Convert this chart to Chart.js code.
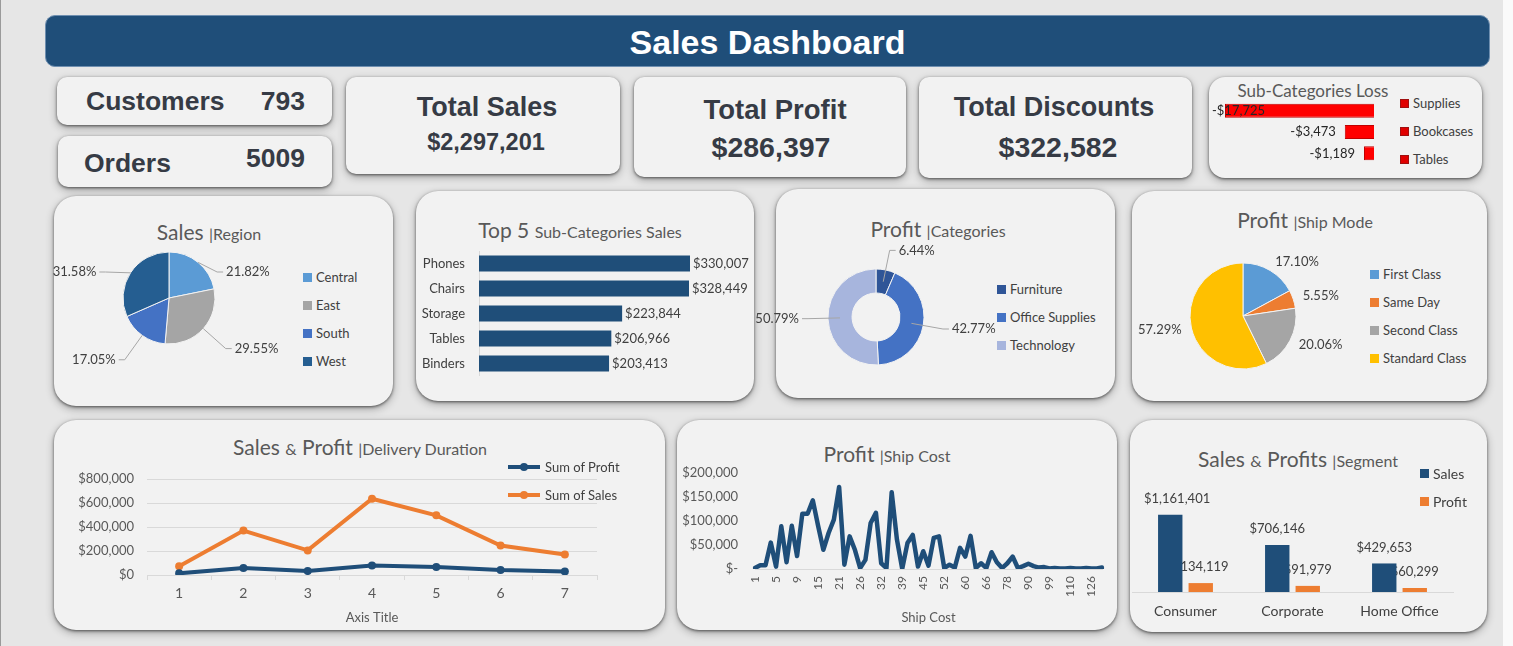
<!DOCTYPE html>
<html lang="en">
<head>
<meta charset="UTF-8">
<title>Sales Dashboard</title>
<script src="https://cdn.jsdelivr.net/npm/chart.js@4.4.1/dist/chart.umd.min.js"></script>
<style>
  html, body { margin: 0; padding: 0; }
  body { width: 1513px; height: 646px; background: #e6e6e6; position: relative; overflow: hidden; font-family: Lato, 'Noto Sans', sans-serif; }
  .card { position: absolute; background: #f2f2f2; border-radius: 22px; box-shadow: 0 1px 3px rgba(0,0,0,.55), 0 3px 8px rgba(0,0,0,.3); }
  .kpi { border-radius: 10px; }
  .kt { position: absolute; font-family: 'Liberation Sans', Arial, sans-serif; font-weight: bold; color: #363b45; white-space: nowrap; transform: translate(0, -50%); }
  .kt.c { transform: translate(-50%, -50%); }
  .kt.r { transform: translate(-100%, -50%); }
  .ttl { position: absolute; color: #595959; white-space: nowrap; transform: translate(-50%, -50%); font-size: 21px; }
  .ttl span { font-size: 16px; }
  canvas { position: absolute; }
  .lg { position: absolute; font-size: 13px; color: #404040; }
  .lg div { height: 28px; display: flex; align-items: center; white-space: nowrap; }
  .sw { width: 9px; height: 9px; margin-right: 4px; display: inline-block; }
  .ln { width: 32px; height: 4px; margin-right: 5px; position: relative; display: inline-block; }
  .ln i { position: absolute; left: 12px; top: -2px; width: 8px; height: 8px; border-radius: 50%; }
</style>
</head>
<body>
<div style="position:absolute;left:0;top:0;width:1px;height:646px;background:#9a9a9a;"></div>
<div style="position:absolute;left:1503px;top:0;width:10px;height:646px;background:#fafafa;"></div>
<div style="position:absolute;left:45px;top:15px;width:1443px;height:50px;background:#1f4e79;border:1px solid #6f8fb0;border-radius:10px;color:#fff;font:bold 34px 'Liberation Sans',Arial,sans-serif;text-align:center;line-height:52px;">Sales Dashboard</div>

<div class="card kpi" style="left:57px;top:77px;width:275px;height:48px;"></div>
<div class="card kpi" style="left:58px;top:136px;width:274px;height:51px;"></div>
<div class="card kpi" style="left:346px;top:77px;width:274px;height:97px;"></div>
<div class="card kpi" style="left:634px;top:77px;width:272px;height:100px;"></div>
<div class="card kpi" style="left:919px;top:77px;width:273px;height:101px;"></div>
<div class="card kpi" style="left:1209px;top:77px;width:273px;height:101px;border-radius:16px;"></div>

<div class="card" style="left:54px;top:196px;width:339px;height:210px;"></div>
<div class="card" style="left:416px;top:191px;width:338px;height:210px;"></div>
<div class="card" style="left:776px;top:189px;width:339px;height:209px;"></div>
<div class="card" style="left:1132px;top:191px;width:355px;height:210px;"></div>
<div class="card" style="left:54px;top:420px;width:611px;height:210px;"></div>
<div class="card" style="left:677px;top:420px;width:440px;height:210px;"></div>
<div class="card" style="left:1130px;top:420px;width:357px;height:212px;"></div>

<div class="kt" style="left:86px;top:101px;font-size:26.5px;">Customers</div>
<div class="kt r" style="left:305px;top:101px;font-size:26.5px;">793</div>
<div class="kt" style="left:84px;top:163px;font-size:26.5px;">Orders</div>
<div class="kt r" style="left:305px;top:158px;font-size:26.5px;">5009</div>
<div class="kt c" style="left:487px;top:107px;font-size:27px;">Total Sales</div>
<div class="kt c" style="left:486px;top:142px;font-size:23.5px;">$2,297,201</div>
<div class="kt c" style="left:775px;top:110px;font-size:27.5px;">Total Profit</div>
<div class="kt c" style="left:771px;top:147px;font-size:28.5px;">$286,397</div>
<div class="kt c" style="left:1054px;top:107px;font-size:27px;">Total Discounts</div>
<div class="kt c" style="left:1058px;top:147px;font-size:28.5px;">$322,582</div>

<div class="ttl" style="left:1313px;top:90px;font-size:17px;">Sub-Categories Loss</div>
<div class="ttl" style="left:209px;top:231px;">Sales <span>|Region</span></div>
<div class="ttl" style="left:580px;top:229px;">Top 5 <span>Sub-Categories Sales</span></div>
<div class="ttl" style="left:938px;top:228px;">Profit <span>|Categories</span></div>
<div class="ttl" style="left:1305px;top:219px;">Profit <span>|Ship Mode</span></div>
<div class="ttl" style="left:360px;top:446px;">Sales <span>&amp;</span> Profit <span>|Delivery Duration</span></div>
<div class="ttl" style="left:887px;top:453px;">Profit <span>|Ship Cost</span></div>
<div class="ttl" style="left:1298px;top:458px;">Sales <span>&amp;</span> Profits <span>|Segment</span></div>

<script>
// ---- data ----
const lossSubCats = ['Supplies', 'Bookcases', 'Tables'];
const lossValues = [-17725, -3473, -1189];

const regionLabels = ['Central', 'East', 'South', 'West'];
const regionShare = [21.82, 29.55, 17.05, 31.58];
const regionColors = ['#5b9bd5', '#a5a5a5', '#4472c4', '#255e91'];

const topSubCats = ['Phones', 'Chairs', 'Storage', 'Tables', 'Binders'];
const topSubSales = [330007, 328449, 223844, 206966, 203413];

const categoryLabels = ['Furniture', 'Office Supplies', 'Technology'];
const categoryShare = [6.44, 42.77, 50.79];
const categoryColors = ['#2f5597', '#4472c4', '#a7b5dd'];

const shipModes = ['First Class', 'Same Day', 'Second Class', 'Standard Class'];
const shipModeShare = [17.10, 5.55, 20.06, 57.29];
const shipModeColors = ['#5b9bd5', '#ed7d31', '#a5a5a5', '#ffc000'];

const deliveryDays = [1, 2, 3, 4, 5, 6, 7];
const deliveryProfit = [14000, 58000, 33000, 80000, 66000, 42000, 30000];
const deliverySales = [72000, 370000, 205000, 635000, 497000, 245000, 171000];

const shipCosts = [1, 2, 3, 4, 5, 6, 7, 8, 9, 10, 12, 13, 15, 16, 18, 19, 21, 22, 23, 25,
  26, 27, 29, 30, 32, 34, 35, 37, 39, 40, 42, 43, 45, 47, 48, 50, 52, 54, 56, 58,
  60, 61, 63, 64, 66, 69, 72, 75, 78, 81, 84, 87, 90, 92, 94, 97, 99, 102, 105, 107,
  110, 114, 118, 122, 126, 130, 135];
const shipCostProfit = [2000, 8000, 8000, 55000, 5000, 89000, 14000, 90000, 27000, 115000,
  115000, 143000, 90000, 40000, 75000, 103000, 171000, 9000, 68000, 40000,
  2000, 19000, 96000, 117000, 12000, 2000, 160000, 61000, 500, 54000,
  71000, 5000, 37000, 7000, 65000, 68000, 2000, 9000, 3000, 44000,
  26000, 69000, 2000, 12000, 2000, 35000, 14000, 2000, 12000, 26000,
  2000, 6000, 11000, 6000, 3000, 4000, 1000, 2000, 1000, 1000,
  2000, 1000, 1000, 2000, 1000, 1000, 3000];

const segments = ['Consumer', 'Corporate', 'Home Office'];
const segmentSales = [1161401, 706146, 429653];
const segmentProfit = [134119, 91979, 60299];

const BLUE = '#1f4e79', ORANGE = '#ed7d31';

Chart.defaults.font.family = "Lato, 'Noto Sans', sans-serif";
Chart.defaults.font.size = 13;
Chart.defaults.color = '#595959';

function money(v) {
  return (v < 0 ? '-$' : '$') + Math.abs(v).toLocaleString('en-US');
}

// stop tick labels from pushing the plot area inwards
function noPad(s) {
  s.paddingTop = 0; s.paddingBottom = 0; s.paddingLeft = 0; s.paddingRight = 0;
}

function canvasAt(x, y, w, h) {
  const c = document.createElement('canvas');
  c.width = w; c.height = h;
  c.style.left = x + 'px'; c.style.top = y + 'px';
  document.body.appendChild(c);
  return c;
}

function boxLegend(x, y, labels, colors, size, border) {
  const box = document.createElement('div');
  box.className = 'lg';
  box.style.left = x + 'px'; box.style.top = (y - 14) + 'px';
  if (size) box.style.fontSize = size + 'px';
  labels.forEach((t, i) => {
    const row = document.createElement('div');
    const sw = document.createElement('span');
    sw.className = 'sw';
    sw.style.background = colors[i];
    if (border) sw.style.boxShadow = 'inset 0 0 0 1px ' + border;
    row.appendChild(sw);
    row.appendChild(document.createTextNode(t));
    box.appendChild(row);
  });
  document.body.appendChild(box);
}

function lineLegend(x, y, labels, colors) {
  const box = document.createElement('div');
  box.className = 'lg';
  box.style.left = x + 'px'; box.style.top = (y - 14) + 'px';
  labels.forEach((t, i) => {
    const row = document.createElement('div');
    const ln = document.createElement('span');
    ln.className = 'ln';
    ln.style.background = colors[i];
    const dot = document.createElement('i');
    dot.style.background = colors[i];
    ln.appendChild(dot);
    row.appendChild(ln);
    row.appendChild(document.createTextNode(t));
    box.appendChild(row);
  });
  document.body.appendChild(box);
}

// percent labels around pie / doughnut slices
const sliceLabels = {
  id: 'sliceLabels',
  afterDatasetsDraw(chart, args, opts) {
    const ctx = chart.ctx;
    const meta = chart.getDatasetMeta(0);
    const vals = chart.data.datasets[0].data;
    ctx.save();
    ctx.font = "13px Lato, 'Noto Sans', sans-serif";
    ctx.fillStyle = '#404040';
    ctx.strokeStyle = '#a6a6a6';
    ctx.lineWidth = 1;
    ctx.textBaseline = 'middle';
    meta.data.forEach((arc, i) => {
      const p = arc.getProps(['x', 'y', 'startAngle', 'endAngle', 'outerRadius', 'innerRadius'], true);
      const mid = (p.startAngle + p.endAngle) / 2;
      const dx = Math.cos(mid), dy = Math.sin(mid);
      const r = p.outerRadius + opts.dist;
      let tx = p.x + dx * r;
      let ty = p.y + dy * r;
      if (opts.top !== undefined) ty = Math.max(ty, p.y - opts.top);
      const side = dx >= 0 ? 1 : -1;
      if (opts.leader) {
        const r0 = p.innerRadius > 0 ? (p.outerRadius + p.innerRadius) / 2 : p.outerRadius;
        ctx.beginPath();
        ctx.moveTo(p.x + dx * r0, p.y + dy * r0);
        ctx.lineTo(tx, ty);
        ctx.lineTo(tx + side * 6, ty);
        ctx.stroke();
        tx += side * 9;
      }
      ctx.textAlign = side > 0 ? 'left' : 'right';
      ctx.fillText(vals[i].toFixed(2) + '%', tx, ty);
    });
    ctx.restore();
  }
};

function pieChart(canvas, labels, values, colors, cfg) {
  return new Chart(canvas, {
    type: cfg.cutout ? 'doughnut' : 'pie',
    data: { labels: labels, datasets: [{ data: values, backgroundColor: colors, borderColor: '#f2f2f2', borderWidth: 1 }] },
    options: {
      responsive: false, animation: false,
      radius: cfg.radius, cutout: cfg.cutout || 0,
      plugins: { legend: { display: false }, tooltip: { enabled: false },
        sliceLabels: { dist: cfg.dist, leader: cfg.leader, top: cfg.top } }
    },
    plugins: [sliceLabels]
  });
}

// ---- Sub-Categories Loss ----
new Chart(canvasAt(1209, 100, 169, 64), {
  type: 'bar',
  data: { labels: lossSubCats, datasets: [{ data: lossValues, backgroundColor: '#ff0000', borderColor: '#c00000', borderWidth: 1,
    categoryPercentage: 1, barPercentage: 0.66 }] },
  options: {
    indexAxis: 'y', responsive: false, animation: false,
    layout: { padding: { left: 16, right: 4 } },
    plugins: { legend: { display: false }, tooltip: { enabled: false } },
    scales: { x: { display: false, min: -17725, max: 0 }, y: { display: false } }
  },
  plugins: [{
    id: 'lossLabels',
    afterDatasetsDraw(chart) {
      const ctx = chart.ctx;
      const meta = chart.getDatasetMeta(0);
      ctx.save();
      ctx.font = "13px Lato, 'Noto Sans', sans-serif";
      ctx.fillStyle = '#262626';
      ctx.textBaseline = 'middle';
      meta.data.forEach((bar, i) => {
        const t = money(lossValues[i]);
        const w = ctx.measureText(t).width;
        const x = Math.max(bar.x - 9 - w, 3);
        ctx.fillText(t, x, bar.y);
      });
      ctx.restore();
    }
  }]
});
boxLegend(1400, 103, lossSubCats, lossSubCats.map(() => '#e00000'), 13, '#a01010');

// ---- Sales | Region ----
pieChart(canvasAt(39, 208, 260, 180), regionLabels, regionShare, regionColors, { radius: 46, dist: 30, leader: true, top: 26 });
boxLegend(303, 277, regionLabels, regionColors);

// ---- Top 5 Sub-Categories Sales ----
new Chart(canvasAt(416, 251, 334, 125), {
  type: 'bar',
  data: { labels: topSubCats, datasets: [{ data: topSubSales, backgroundColor: BLUE, categoryPercentage: 1, barPercentage: 0.64 }] },
  options: {
    indexAxis: 'y', responsive: false, animation: false,
    layout: { padding: { right: 60 } },
    plugins: { legend: { display: false }, tooltip: { enabled: false } },
    scales: {
      x: { display: false, min: 0, max: 330007 },
      y: { grid: { display: false, drawTicks: false }, border: { color: '#d9d9d9' },
        ticks: { color: '#404040', padding: 14, font: { size: 13 } },
        afterFit(s) { s.width = 63; noPad(s); } }
    }
  },
  plugins: [{
    id: 'topLabels',
    afterDatasetsDraw(chart) {
      const ctx = chart.ctx;
      ctx.save();
      ctx.font = "13px Lato, 'Noto Sans', sans-serif";
      ctx.fillStyle = '#404040';
      ctx.textBaseline = 'middle';
      chart.getDatasetMeta(0).data.forEach((bar, i) => ctx.fillText(money(topSubSales[i]), bar.x + 3, bar.y));
      ctx.restore();
    }
  }]
});

// ---- Profit | Categories ----
pieChart(canvasAt(756, 232, 240, 170), categoryLabels, categoryShare, categoryColors, { radius: 48, cutout: '50%', dist: 20, leader: true });
boxLegend(997, 289, categoryLabels, categoryColors);

// ---- Profit | Ship Mode ----
pieChart(canvasAt(1123, 236, 240, 160), shipModes, shipModeShare, shipModeColors, { radius: 53, dist: 10, leader: false });
boxLegend(1370, 274, shipModes, shipModeColors);

// ---- Sales & Profit | Delivery Duration ----
new Chart(canvasAt(70, 465, 540, 165), {
  type: 'line',
  data: { labels: deliveryDays, datasets: [
    { label: 'Sum of Profit', data: deliveryProfit, borderColor: BLUE, backgroundColor: BLUE, borderWidth: 4, pointRadius: 4, pointBorderWidth: 0, tension: 0 },
    { label: 'Sum of Sales', data: deliverySales, borderColor: ORANGE, backgroundColor: ORANGE, borderWidth: 4, pointRadius: 4, pointBorderWidth: 0, tension: 0 }
  ] },
  options: {
    responsive: false, animation: false,
    layout: { padding: { top: 14, right: 13 } },
    plugins: { legend: { display: false }, tooltip: { enabled: false } },
    scales: {
      x: { offset: true,
        grid: { offset: true, drawOnChartArea: false, tickLength: 5, color: '#d9d9d9' },
        border: { color: '#d9d9d9' },
        ticks: { font: { size: 14 }, padding: 5 },
        title: { display: true, text: 'Axis Title', font: { size: 13 }, color: '#595959', padding: { top: 4, bottom: 4 } },
        afterFit(s) { s.height = 55; noPad(s); } },
      y: { min: 0, max: 800000,
        ticks: { stepSize: 200000, padding: 13, callback: v => money(v) },
        grid: { color: '#d9d9d9', drawTicks: false }, border: { display: false },
        afterFit(s) { s.width = 77; noPad(s); } }
    }
  }
});
lineLegend(508, 467, ['Sum of Profit', 'Sum of Sales'], [BLUE, ORANGE]);

// ---- Profit | Ship Cost ----
new Chart(canvasAt(672, 465, 438, 165), {
  type: 'line',
  data: { labels: shipCosts, datasets: [{ data: shipCostProfit, borderColor: BLUE, borderWidth: 4.5, pointRadius: 0, tension: 0,
    borderJoinStyle: 'round', borderCapStyle: 'round' }] },
  options: {
    responsive: false, animation: false,
    layout: { padding: { top: 8, right: 8 } },
    plugins: { legend: { display: false }, tooltip: { enabled: false } },
    scales: {
      x: { offset: false, grid: { display: false, drawTicks: false }, border: { color: '#d9d9d9' },
        ticks: { autoSkip: false, minRotation: 90, maxRotation: 90, padding: 7, font: { size: 12 },
          callback(value, index) { return index % 4 === 0 ? this.getLabelForValue(value) : ''; } },
        title: { display: true, text: 'Ship Cost', font: { size: 13 }, color: '#595959', padding: { top: 4, bottom: 4 } },
        afterFit(s) { s.height = 61; noPad(s); } },
      y: { min: 0, max: 200000, grid: { display: false, drawTicks: false }, border: { display: false },
        ticks: { stepSize: 50000, padding: 17, callback: v => v === 0 ? '$-' : money(v) },
        afterFit(s) { s.width = 83; noPad(s); } }
    }
  }
});

// ---- Sales & Profits | Segment ----
function segLabels(chart, di, vals) {
  const ctx = chart.ctx;
  ctx.save();
  ctx.font = "13px Lato, 'Noto Sans', sans-serif";
  ctx.fillStyle = '#404040';
  ctx.textAlign = 'center';
  ctx.textBaseline = 'middle';
  chart.getDatasetMeta(di).data.forEach((bar, i) => {
    const t = money(vals[i]);
    const w = ctx.measureText(t).width;
    const x = Math.max(bar.x, chart.chartArea.left + 12 + w / 2);
    ctx.fillText(t, x, bar.y - 16);
  });
  ctx.restore();
}
new Chart(canvasAt(1132, 480, 328, 148), {
  type: 'bar',
  data: { labels: segments, datasets: [
    { label: 'Sales', data: segmentSales, backgroundColor: BLUE, categoryPercentage: 0.57, barPercentage: 0.8 },
    { label: 'Profit', data: segmentProfit, backgroundColor: ORANGE, categoryPercentage: 0.57, barPercentage: 0.8 }
  ] },
  options: {
    responsive: false, animation: false,
    layout: { padding: { top: 19, right: 7 } },
    plugins: { legend: { display: false }, tooltip: { enabled: false } },
    scales: {
      x: { grid: { display: false, drawTicks: false }, border: { color: '#d9d9d9' },
        ticks: { color: '#404040', font: { size: 14 }, padding: 11 },
        afterFit(s) { s.height = 36; noPad(s); } },
      y: { display: false, min: 0, max: 1400000 }
    }
  },
  plugins: [{
    id: 'segLabels',
    beforeDatasetsDraw(chart) { segLabels(chart, 1, segmentProfit); },
    afterDatasetsDraw(chart) { segLabels(chart, 0, segmentSales); }
  }]
});
boxLegend(1420, 473, ['Sales', 'Profit'], [BLUE, ORANGE], 14);
</script>
</body>
</html>
